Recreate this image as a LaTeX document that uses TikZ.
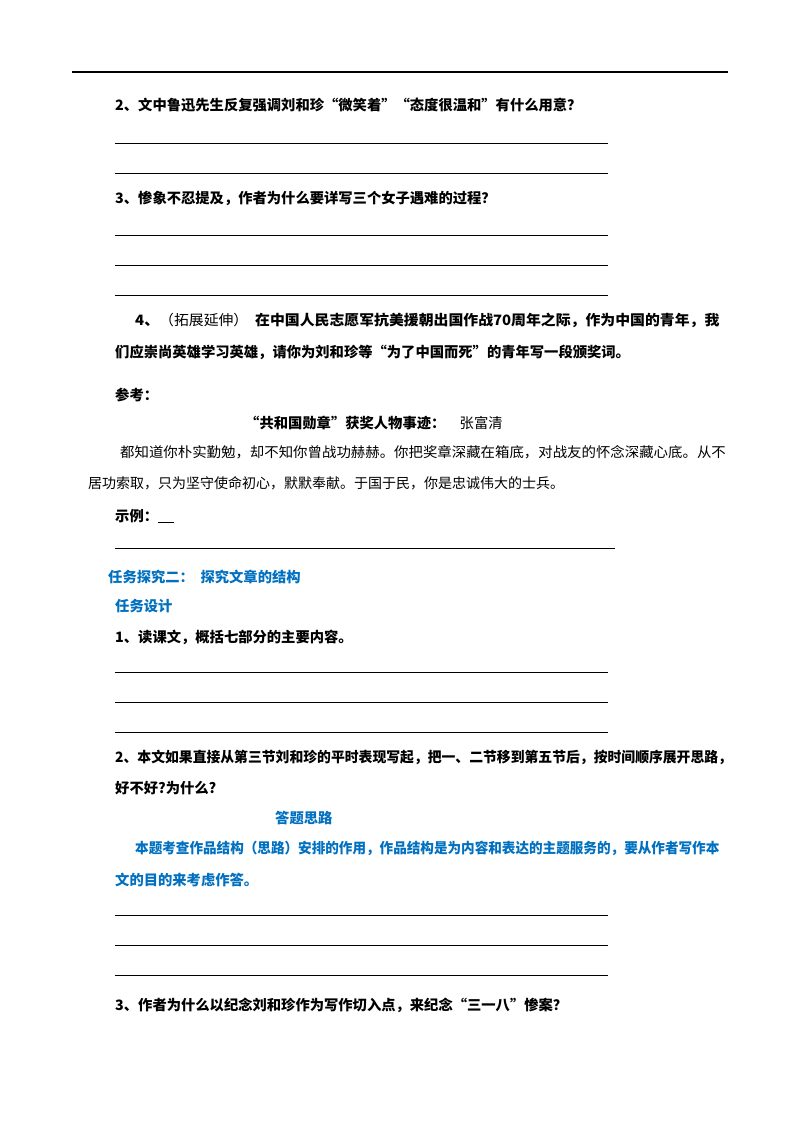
\documentclass[tikz,border=0pt]{standalone}
\usepackage{fontspec}
\setmainfont{Noto Sans CJK SC}
\definecolor{tblue}{RGB}{0,112,192}
\begin{document}
\begin{tikzpicture}[x=1pt,y=-1pt,
  q/.style={anchor=west,inner sep=0pt,font=\fontsize{14.3}{15}\selectfont\bfseries},
  b/.style={anchor=west,inner sep=0pt,font=\fontsize{14.3}{15}\selectfont\bfseries,text=tblue},
  p/.style={anchor=west,inner sep=0pt,font=\fontsize{14}{15}\selectfont},
  ln/.style={line width=0.8pt}]
\useasboundingbox[fill=white] (0,0) rectangle (800,1132);
\draw[line width=1.2pt] (72,72) -- (728,72);
\node[q] (q2) at (115,105) {2、文中鲁迅先生反复强调刘和珍“微笑着”“态度很温和”有什么用意？};
\foreach \y in {143,173} \draw[ln] (115,\y) -- (608,\y);
\node[q] (q3) at (115,198) {3、惨象不忍提及，作者为什么要详写三个女子遇难的过程？};
\foreach \y in {235,265,295} \draw[ln] (115,\y) -- (608,\y);
\node[q,xscale=1.04] (q4a) at (135,320) {4、\mdseries（拓展延伸）\bfseries\ \ 在中国人民志愿军抗美援朝出国作战70周年之际，作为中国的青年，我};
\node[q] (q4b) at (115,352) {们应崇尚英雄学习英雄，请你为刘和珍等“为了中国而死”的青年写一段颁奖词。};
\node[q] (ck) at (115,395) {参考：};
\node[q] (tt) at (245,423) {“共和国勋章”获奖人物事迹：\quad\mdseries 张富清};
\node[p,xscale=1.03] (pa) at (120,452) {都知道你朴实勤勉，却不知你曾战功赫赫。你把奖章深藏在箱底，对战友的怀念深藏心底。从不};
\node[p] (pb) at (88,483) {居功索取，只为坚守使命初心，默默奉献。于国于民，你是忠诚伟大的士兵。};
\node[q] (sl) at (115,516) {示例：\underline{\ \ \ \ \ }};
\draw[ln] (115,548) -- (615,548);
\node[b] (t2) at (108,577) {任务探究二：\ \ 探究文章的结构};
\node[b] (td) at (115,606) {任务设计};
\node[q] (r1) at (115,637) {1、读课文，概括七部分的主要内容。};
\foreach \y in {672,702,732} \draw[ln] (115,\y) -- (608,\y);
\node[q,xscale=0.967] (r2a) at (115,757) {2、本文如果直接从第三节刘和珍的平时表现写起，把一、二节移到第五节后，按时间顺序展开思路，};
\node[q] (r2b) at (115,788) {好不好?为什么?};
\node[b] (dt) at (275,818) {答题思路};
\node[b,xscale=0.95] (h1) at (135,848) {本题考查作品结构（思路）安排的作用，作品结构是为内容和表达的主题服务的，要从作者写作本};
\node[b] (h2) at (115,880) {文的目的来考虑作答。};
\foreach \y in {915,945,975} \draw[ln] (115,\y) -- (608,\y);
\node[q] (r3) at (115,1005) {3、作者为什么以纪念刘和珍作为写作切入点，来纪念“三一八”惨案？};
\end{tikzpicture}
\end{document}
